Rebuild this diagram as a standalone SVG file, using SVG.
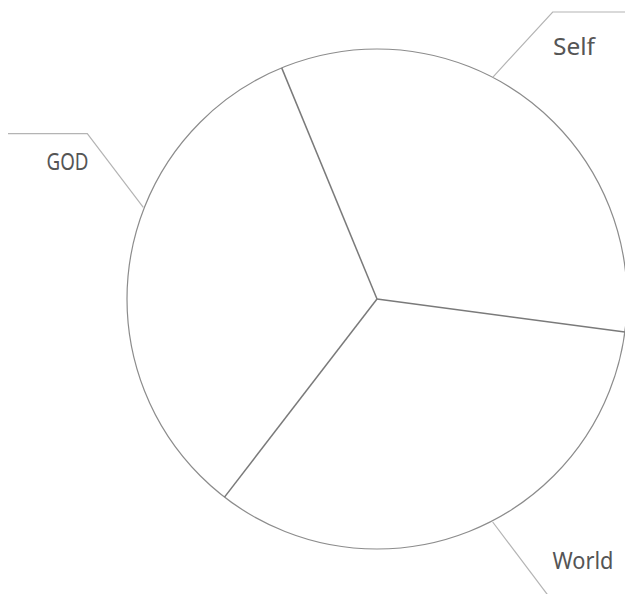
<svg xmlns="http://www.w3.org/2000/svg" width="625" height="594" viewBox="0 0 625 594">
<style>
.wheel{fill:none;stroke:#8c8c8c;stroke-width:1.2}
.spoke{stroke:#7a7a7a;stroke-width:1.5;fill:none}
.lead{stroke:#b4b4b4;stroke-width:1.2;fill:none}
.lbl{font-family:"Noto Sans","Open Sans","DejaVu Sans",sans-serif;font-size:24px;fill:#555555}
</style>
<rect width="625" height="594" fill="#ffffff"/>
<g id="wheel">
<circle class="wheel" cx="377" cy="299" r="250"/>
</g>
<g id="connectors">
<line class="spoke" x1="377" y1="299" x2="281.7" y2="67.9"/>
<line class="spoke" x1="377" y1="299" x2="624.8" y2="332.1"/>
<line class="spoke" x1="377" y1="299" x2="224.5" y2="497.1"/>
<polyline class="lead" points="492.7,77.3 552.7,12 626,12"/>
<polyline class="lead" points="143.3,207.3 87.3,133.7 8,133.7"/>
<polyline class="lead" points="492.7,522 550,598"/>
</g>
<g id="self">
<text class="lbl" x="553" y="54.5" textLength="42" lengthAdjust="spacingAndGlyphs">Self</text>
</g>
<g id="god">
<text class="lbl" x="46.5" y="170" textLength="42" lengthAdjust="spacingAndGlyphs">GOD</text>
</g>
<g id="world">
<text class="lbl" x="552.5" y="569.3" textLength="61" lengthAdjust="spacingAndGlyphs">World</text>
</g>
</svg>
